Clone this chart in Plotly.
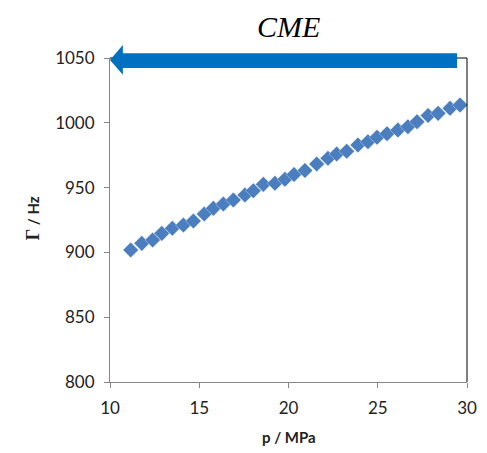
import plotly.graph_objects as go

pressure_MPa = [11.16, 11.78, 12.39, 12.90, 13.49, 14.11, 14.67, 15.28, 15.79, 16.35,
                16.91, 17.56, 18.03, 18.59, 19.24, 19.80, 20.31, 20.92, 21.58, 22.21,
                22.70, 23.26, 23.89, 24.45, 24.96, 25.52, 26.13, 26.69, 27.20, 27.82,
                28.38, 29.05, 29.61]
gamma_Hz = [901.9, 907.0, 909.6, 914.7, 918.6, 921.1, 924.2, 929.6, 934.0, 937.3,
            940.4, 944.3, 947.6, 952.5, 953.3, 956.4, 960.1, 963.2, 968.2, 972.6,
            975.9, 978.0, 982.9, 985.4, 988.8, 991.6, 994.4, 997.0, 1000.8, 1005.6,
            1007.3, 1011.2, 1013.7]
x_ticks = [10, 15, 20, 25, 30]
y_ticks = [800, 850, 900, 950, 1000, 1050]

tick_font = dict(family="Lato, Open Sans, sans-serif", size=17, color="#222")

fig = go.Figure()
fig.add_trace(go.Scatter(
    x=pressure_MPa, y=gamma_Hz, mode="markers",
    marker=dict(symbol="diamond", size=12, color="#4A7EBF",
                line=dict(color="rgba(255,255,255,0.6)", width=0.6)),
    cliponaxis=False, showlegend=False))

axis_common = dict(showgrid=False, zeroline=False, ticks="outside", ticklen=5,
                   tickcolor="#868686", linecolor="#868686", linewidth=1,
                   showline=True, tickfont=tick_font, ticklabelstandoff=6)
fig.update_xaxes(range=[10, 30], tickvals=x_ticks, **axis_common)
fig.update_yaxes(range=[800, 1050], tickvals=y_ticks, **axis_common)

shapes = [
    dict(type="line", xref="paper", yref="paper", x0=0, x1=1, y0=1, y1=1,
         line=dict(color="black", width=1)),
    dict(type="line", xref="paper", yref="paper", x0=1, x1=1, y0=0, y1=1,
         line=dict(color="black", width=1)),
    dict(type="path", xref="paper", yref="paper",
         path="M 0 0.994 L 0.036 1.040 L 0.036 1.015 L 0.972 1.015 L 0.972 0.969 "
              "L 0.036 0.969 L 0.036 0.948 Z",
         fillcolor="#0070C0", line=dict(width=0), layer="above"),
]

annotations = [
    dict(text="<i>CME</i>", xref="paper", yref="paper", x=0.5, y=1.154,
         showarrow=False, yanchor="top",
         font=dict(family="Liberation Serif, Times New Roman, serif", size=30, color="black")),
    dict(text="<b>p / MPa</b>", xref="paper", yref="paper", x=0.5, y=-0.17,
         showarrow=False, yanchor="middle",
         font=dict(family="Lato, Open Sans, sans-serif", size=15, color="#222")),
    dict(text='<span style="font-family:Liberation Serif;font-size:18px"><b>Γ</b></span><b> / Hz</b>',
         xref="paper", yref="paper", x=-0.216, y=0.505, textangle=-90,
         showarrow=False, xanchor="center", yanchor="middle",
         font=dict(family="Lato, Open Sans, sans-serif", size=15, color="#222")),
]

fig.update_layout(
    width=487, height=453,
    margin=dict(l=102, r=28, t=50, b=79),
    plot_bgcolor="white", paper_bgcolor="white",
    shapes=shapes, annotations=annotations)

fig.write_html("out.html")
